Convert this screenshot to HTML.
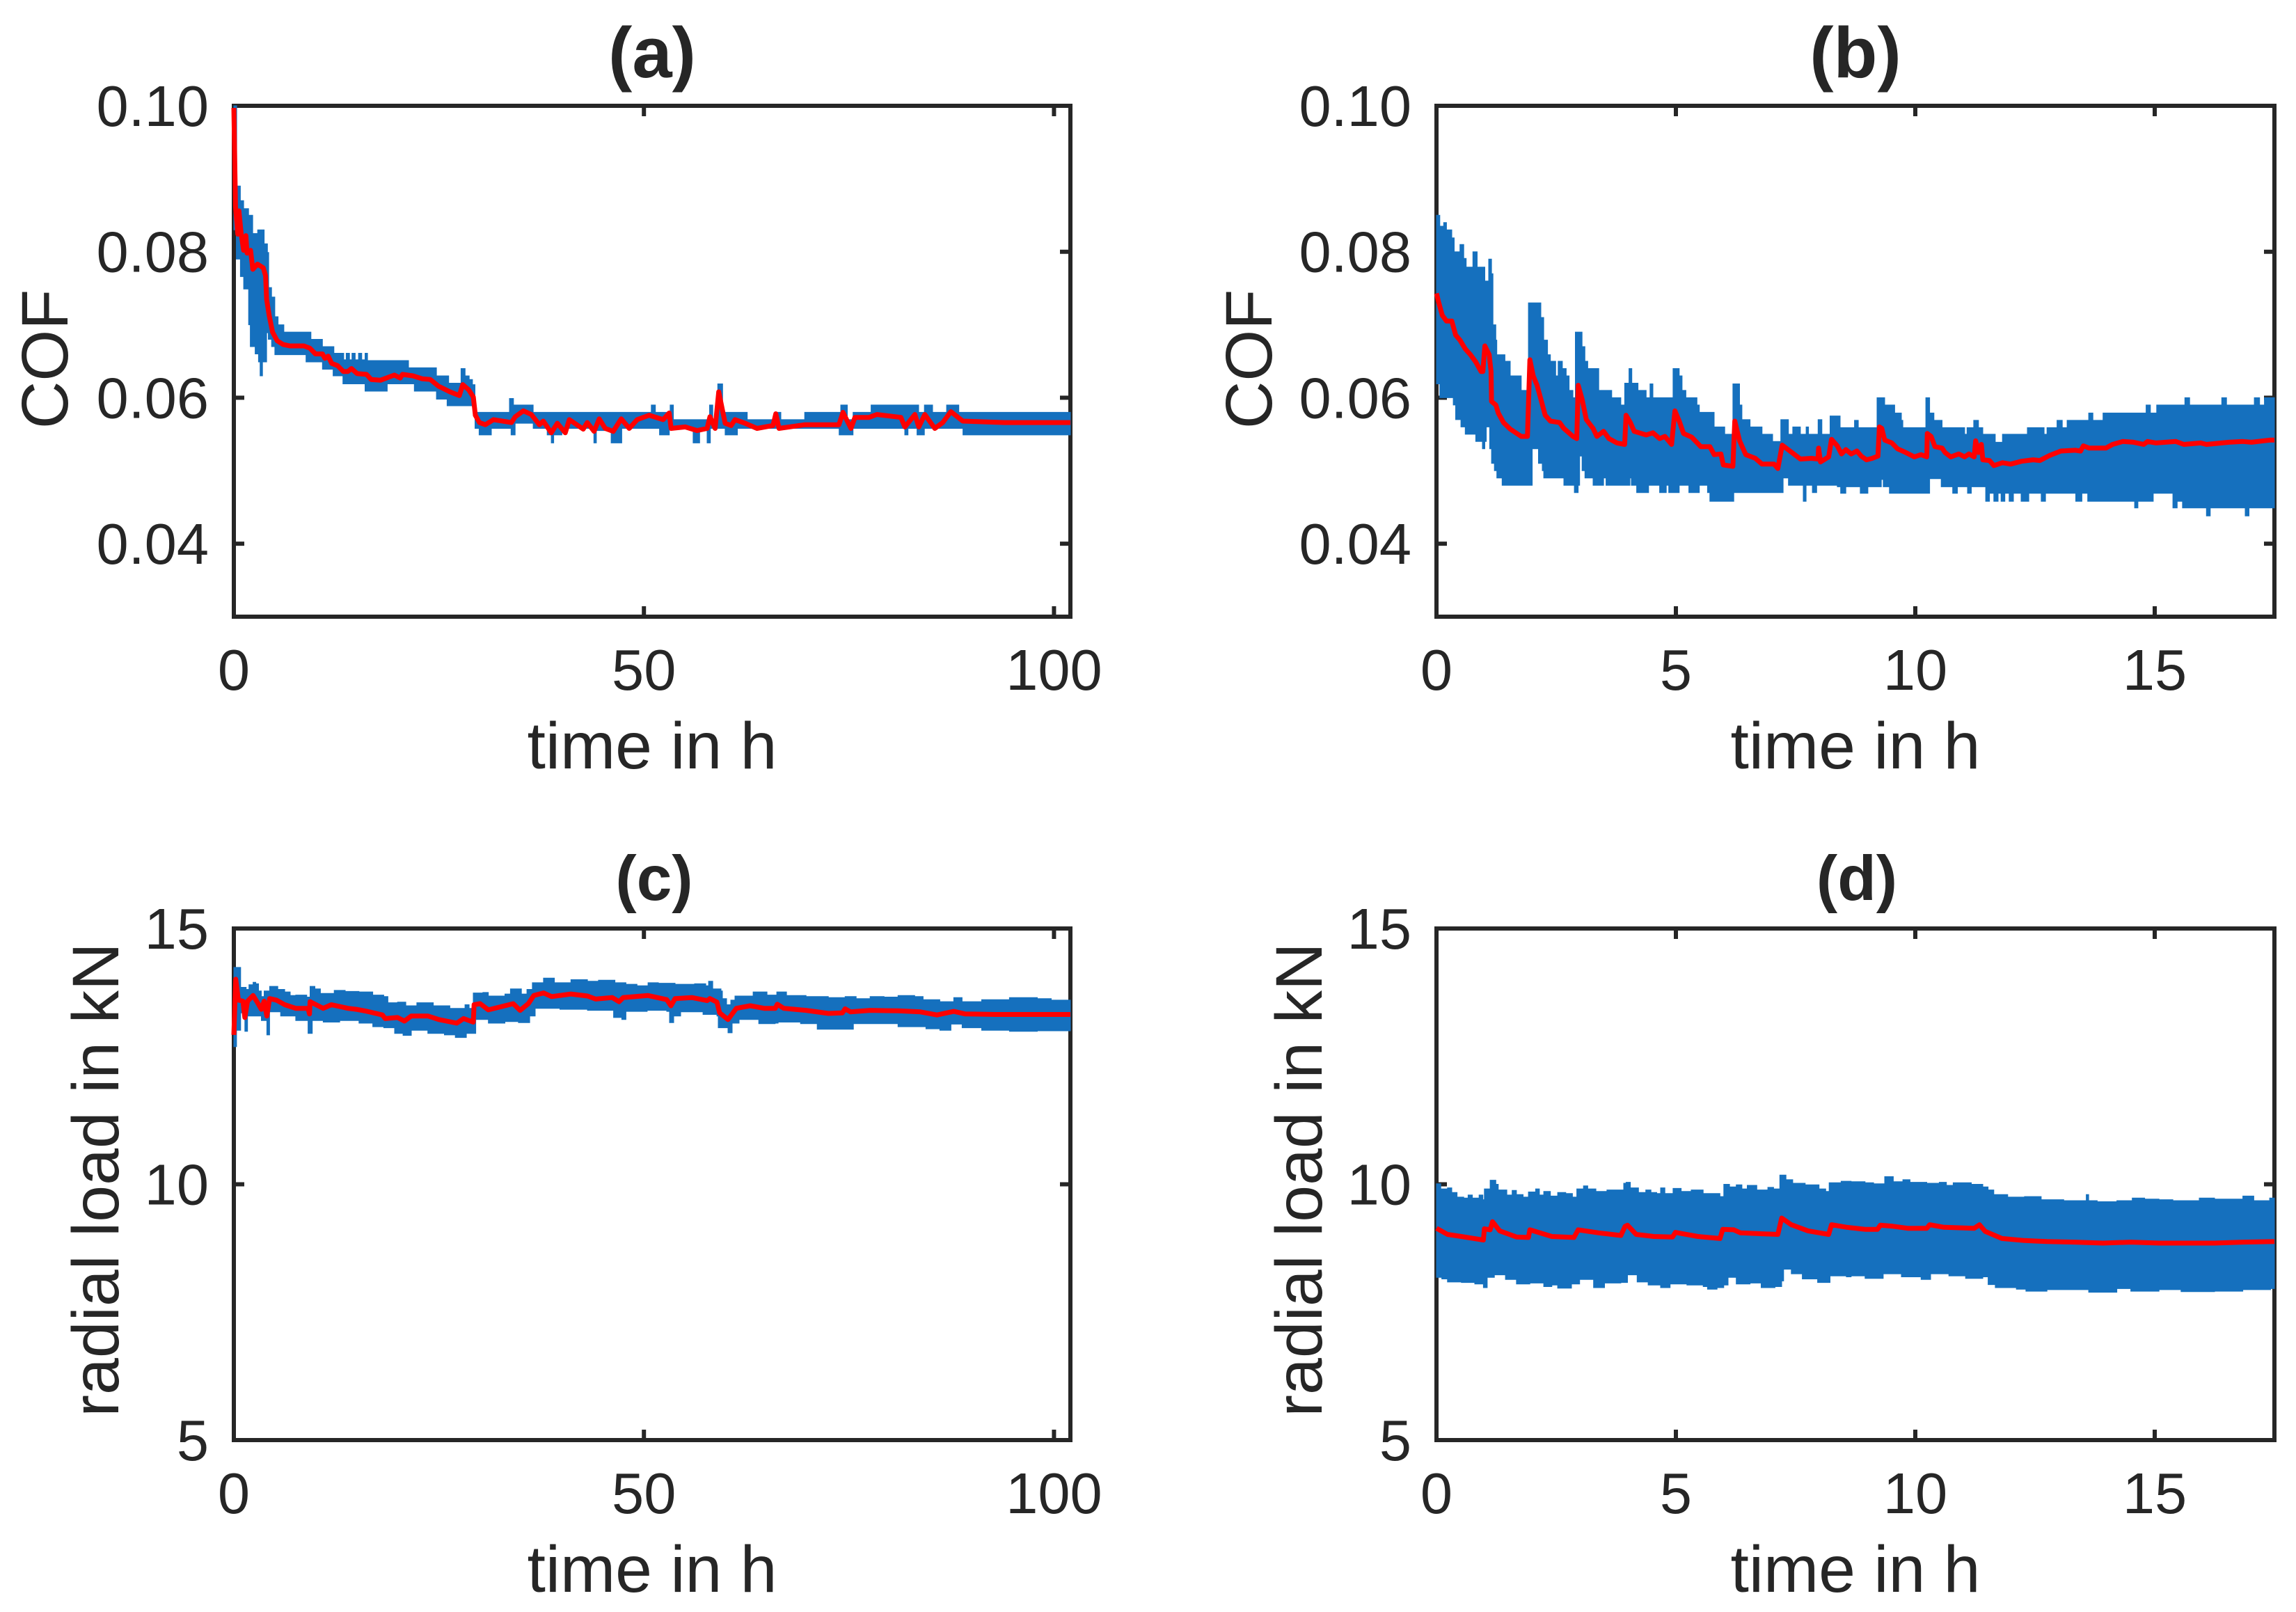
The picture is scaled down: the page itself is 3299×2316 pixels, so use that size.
<!DOCTYPE html>
<html lang="en">
<head>
<meta charset="utf-8">
<title>COF and radial load over time</title>
<style>
html,body{margin:0;padding:0;background:#fff;}
svg{display:block;}
text{font-family:"Liberation Sans",sans-serif;fill:#262626;}
.tick{font-size:83px;}
.lab{font-size:95px;}
.ttl{font-size:103px;font-weight:bold;}
.ttl2{font-size:91px;font-weight:bold;}
</style>
</head>
<body>
<svg xmlns="http://www.w3.org/2000/svg" width="3299" height="2316" viewBox="0 0 3299 2316">
<rect x="0" y="0" width="3299" height="2316" fill="#fff"/>
<g id="panel-a">
<text class="ttl" x="937" y="111" text-anchor="middle">(a)</text>
<text class="lab" x="937" y="1104" text-anchor="middle">time in h</text>
<text class="lab" transform="translate(97,516) rotate(-90)" text-anchor="middle">COF</text>
</g>
<g id="panel-b">
<text class="ttl" x="2666" y="111" text-anchor="middle">(b)</text>
<text class="lab" x="2666" y="1104" text-anchor="middle">time in h</text>
<text class="lab" transform="translate(1827,516) rotate(-90)" text-anchor="middle">COF</text>
</g>
<g id="panel-c">
<text class="ttl2" x="940" y="1293" text-anchor="middle">(c)</text>
<text class="lab" x="937" y="2287" text-anchor="middle">time in h</text>
<text class="lab" transform="translate(170,1695) rotate(-90)" text-anchor="middle">radial load in kN</text>
</g>
<g id="panel-d">
<text class="ttl2" x="2668" y="1293" text-anchor="middle">(d)</text>
<text class="lab" x="2666" y="2287" text-anchor="middle">time in h</text>
<text class="lab" transform="translate(1899,1695) rotate(-90)" text-anchor="middle">radial load in kN</text>
</g>
</svg>
<script>
// ---- Tick values and labels ----
const xTicksLong = [0, 50, 100];
const xTickLabelsLong = ['0', '50', '100'];
const xTicksShort = [0, 5, 10, 15];
const xTickLabelsShort = ['0', '5', '10', '15'];
const yTicksCof = [0.04, 0.06, 0.08, 0.10];
const yTickLabelsCof = ['0.04', '0.06', '0.08', '0.10'];
const yTicksLoad = [5, 10, 15];
const yTickLabelsLoad = ['5', '10', '15'];

// ---- Panel (a): COF, long run ----
const aUpperTime = [0,.35,.8,1.2,1.8,2.3,2.9,3.7,4.1,4.25,4.6,5,5.4,6.1,9.4,10.8,12.2,13.4,13.7,14.1,14.4,14.8,15.2,15.6,16,16.3,21.3,24.7,26.2,27.7,28.2,28.7,29.1,29.4,33.6,34.1,36.5,50.9,51.4,53.2,53.6,58,58.4,59,59.6,62.6,66,66.7,69.6,74,74.8,75.5,77.7,83.5,84.2,85.2,86.9,88.4,102];
const aUpper = [.1,.089,.087,.0859,.085,.0825,.083,.0811,.0799,.0751,.0738,.0711,.07,.069,.068,.067,.0661,.0652,.0661,.0652,.0661,.0652,.0661,.0652,.0661,.0651,.0641,.063,.062,.064,.063,.0625,.0618,.058,.0599,.059,.058,.059,.058,.059,.057,.059,.057,.0619,.058,.057,.058,.057,.058,.059,.057,.058,.059,.058,.059,.058,.059,.058,.058];
const aLowerTime = [0,.3,.8,1.2,1.8,2,2.6,3,3.2,3.5,4,4.2,4.6,5,8.8,10.8,12.1,13.3,16,18.7,22,24.7,26,29.2,29.4,29.9,31.4,33.8,34.3,36.5,38.2,38.7,39,40,43.9,44.2,46,47.3,51.9,53.1,56,56.8,57.7,58.1,59.9,61.4,73.8,75.5,81.8,82.2,83.3,84.2,88.9,102];
const aLower = [.083,.079,.0766,.0749,.07,.067,.066,.0649,.063,.0649,.0689,.068,.067,.0659,.0649,.0639,.063,.0619,.0609,.0619,.0609,.0598,.0589,.0575,.0558,.0549,.0558,.0549,.0565,.0558,.0549,.0538,.0549,.0558,.0538,.0555,.0538,.0558,.0549,.0558,.0538,.0555,.0538,.0558,.0549,.0558,.0549,.0558,.0549,.0558,.0549,.0558,.0549,.0549];
const aMeanTime = [0,.2,.48,.62,.9,1.19,1.47,1.61,2.04,2.32,2.88,3.59,3.87,4,4.3,4.72,5.29,6,6.84,8.54,9.25,9.95,10.8,11.1,11.5,11.93,12.64,13.35,13.91,14.34,15.04,16.17,16.74,17.87,19.57,20.28,20.56,21.83,22.96,23.95,24.94,26.36,27.49,27.91,28.62,29.2,29.45,29.94,30.67,31.65,33.84,34.32,35.3,36.27,37.25,37.73,38.7,39.44,40.41,40.9,42.6,43.09,43.92,44.55,45.28,46.26,47.23,48.21,49.18,50.64,52.35,53.08,53.32,55.03,56.49,57.7,58.05,58.68,59.12,59.9,60.63,61.11,62.33,63.79,65.74,66.08,66.47,69.64,73.78,74.27,75.24,75.73,77.43,78.41,81.33,81.82,83.03,83.52,84.25,85.47,86.44,87.42,88.88,94,102];
const aMean = [.0997,.0862,.0824,.0856,.0824,.0802,.0822,.0798,.0802,.0776,.0783,.0778,.0767,.0735,.0713,.069,.0678,.0673,.0671,.0671,.0668,.066,.066,.0654,.0657,.0647,.0644,.0636,.0636,.064,.0633,.0632,.0625,.0624,.0631,.0627,.0632,.063,.0626,.0625,.0616,.0608,.0603,.0618,.0611,.0601,.0576,.0566,.0563,.057,.0566,.0574,.0582,.0577,.0563,.0568,.0552,.0565,.0552,.057,.0557,.0566,.0554,.0571,.0558,.0554,.0571,.0558,.057,.0576,.057,.0579,.0558,.056,.0555,.0558,.0574,.0558,.0608,.0565,.0562,.057,.0565,.0558,.0562,.0578,.0558,.0563,.0563,.058,.0558,.0573,.0573,.0577,.0573,.056,.0577,.056,.0577,.0558,.0566,.0581,.0568,.0566,.0566];

// ---- Panel (b): COF, short run ----
const bUpperTime = [0,.07,.15,.21,.32,.37,.49,.57,.62,.76,.85,1.01,1.09,1.15,1.18,1.24,1.26,1.43,1.54,1.77,1.92,2.18,2.24,2.32,2.38,2.49,2.54,2.63,2.71,2.77,2.85,2.9,3.04,3.1,3.16,3.39,3.66,3.85,3.93,4.02,4.08,4.21,4.38,4.46,4.52,4.94,5.07,5.13,5.21,5.44,5.49,5.8,6.02,6.19,6.33,6.38,6.55,6.8,7.02,7.19,7.35,7.44,7.6,7.72,7.77,7.97,8.05,8.22,8.43,8.73,8.81,9.2,9.36,9.57,9.71,9.74,10.22,10.3,10.39,10.56,11.03,11.08,11.22,11.32,11.41,11.67,11.82,12.34,12.69,12.75,12.96,13.07,13.17,13.62,13.71,13.92,14.82,14.91,15.04,15.63,15.73,16.4,16.5,17.08,17.19,17.29,17.5];
const bUpper = [.085,.0835,.084,.083,.0819,.08,.081,.0791,.0779,.08,.0779,.076,.079,.077,.07,.0679,.0659,.065,.063,.061,.073,.071,.0679,.0659,.065,.063,.065,.064,.063,.061,.06,.069,.067,.065,.064,.061,.06,.059,.062,.064,.062,.061,.06,.0619,.06,.064,.063,.061,.06,.059,.058,.056,.055,.0619,.059,.057,.056,.055,.054,.057,.055,.056,.055,.056,.055,.057,.055,.0575,.0559,.0569,.0559,.06,.059,.0579,.0569,.0559,.06,.0579,.0569,.0559,.055,.0559,.0569,.0559,.055,.0539,.055,.0559,.055,.0559,.0569,.0559,.0569,.0579,.0569,.0579,.059,.0579,.059,.06,.059,.06,.059,.06,.059,.06,.06];
const bLowerTime = [0,.07,.35,.4,.51,.6,.82,.96,1.01,1.04,1.11,1.15,1.21,1.26,1.37,2,2.13,2.21,2.24,2.66,2.88,2.96,2.99,3.04,3.1,3.27,3.49,3.54,4.04,4.07,4.18,4.43,4.66,4.8,4.85,5.07,5.27,5.49,5.66,5.71,6.21,7.24,7.35,7.66,7.72,7.85,7.94,8.37,8.44,8.55,8.85,9.01,9.29,9.33,9.46,10.3,10.54,10.78,10.88,11.09,11.17,11.47,11.55,11.64,11.73,11.79,11.87,11.96,12.05,12.21,12.37,12.63,12.72,13.35,13.48,13.6,14.58,14.65,14.97,15.38,15.47,15.58,16.08,16.16,16.89,16.97,17.5];
const bLower = [.0619,.06,.059,.057,.056,.055,.054,.053,.054,.056,.053,.051,.05,.049,.048,.053,.051,.05,.049,.048,.047,.048,.052,.05,.049,.048,.049,.048,.049,.048,.047,.048,.047,.048,.047,.048,.047,.048,.047,.0458,.047,.049,.048,.0458,.048,.047,.048,.0478,.0469,.0478,.0469,.0478,.0488,.0478,.0469,.0489,.0478,.0469,.0478,.0469,.0478,.0458,.0469,.0458,.0469,.0458,.0469,.0458,.0469,.0458,.0469,.0458,.0469,.0458,.0469,.0458,.0449,.0458,.0469,.0449,.0458,.0449,.0438,.0449,.0438,.0449,.0458];
const bMeanTime = [0,.04,.12,.21,.32,.4,.49,.6,.71,.82,.93,.97,1.01,1.1,1.14,1.15,1.24,1.29,1.4,1.54,1.77,1.9,1.95,2.02,2.1,2.18,2.27,2.38,2.57,2.66,2.85,2.93,2.96,3.04,3.13,3.27,3.35,3.49,3.6,3.77,3.93,3.96,4.05,4.13,4.38,4.52,4.66,4.77,4.91,4.98,5.07,5.16,5.33,5.52,5.71,5.8,5.94,5.99,6.19,6.23,6.33,6.46,6.66,6.8,7.05,7.13,7.22,7.44,7.6,7.83,7.97,7.98,8.02,8.19,8.25,8.37,8.46,8.55,8.66,8.78,8.87,8.98,9.1,9.22,9.25,9.3,9.36,9.51,9.63,9.8,9.98,10.12,10.24,10.25,10.33,10.41,10.56,10.62,10.74,10.91,11.03,11.12,11.23,11.26,11.32,11.38,11.41,11.55,11.64,11.82,11.99,12.22,12.46,12.6,12.81,13.04,13.34,13.45,13.51,13.63,13.98,14.12,14.33,14.56,14.77,14.85,15.03,15.44,15.61,15.96,16.08,16.55,16.84,17.02,17.42,17.5];
const bMean = [.0743,.0732,.0713,.0705,.0705,.0686,.0679,.0667,.0659,.0649,.0636,.0636,.0671,.0659,.0636,.0595,.059,.0579,.0566,.0557,.0547,.0547,.0652,.063,.0617,.0598,.0576,.0568,.0566,.0558,.0547,.0544,.0617,.0598,.057,.0558,.0547,.0554,.0544,.0538,.0536,.0576,.0566,.0554,.0549,.0552,.0544,.0547,.0536,.0582,.0568,.0551,.0546,.0533,.0533,.0522,.0523,.0508,.0506,.0568,.0541,.0522,.0517,.0509,.0509,.0503,.0535,.0524,.0516,.0517,.0516,.0531,.0512,.0519,.0543,.0534,.0523,.0529,.0523,.0527,.052,.0515,.0517,.052,.056,.0558,.0542,.0538,.053,.0525,.0519,.0522,.0519,.0551,.0547,.0533,.0531,.0525,.0519,.0523,.0519,.0523,.0519,.0541,.0525,.0536,.0515,.0514,.0507,.0511,.0509,.0513,.0515,.0514,.0521,.0527,.0528,.0527,.0534,.0531,.0531,.0536,.054,.0539,.0536,.054,.0538,.054,.0536,.0538,.0536,.0539,.054,.0539,.0542,.0542];

// ---- Panel (c): radial load, long run ----
const cUpperTime = [0,.67,.83,1.5,1.84,2.34,2.68,3.01,3.35,3.69,4.36,5.36,6.2,6.87,7.54,8.89,9.29,9.89,10.56,12.24,13.58,15.26,16.94,18.28,18.79,19.96,20.97,22.31,24.32,26.34,27.34,28.18,28.69,29.19,30.36,31.03,33.05,33.72,35.06,35.73,36.4,37.75,39.09,41.1,43.12,44.46,46.47,47.81,49.16,50.5,51.76,53.8,56.18,57.54,57.88,58.39,59.4,59.57,60.08,60.59,61.1,63.31,65.01,66.2,67.39,69.77,72.49,74.53,75.88,77.58,79.28,80.98,83.02,84.04,86.08,87.78,88.8,91.18,94.57,97.97,99.67,102];
const cUpper = [14.24,14.24,13.85,13.81,13.9,13.95,13.92,13.78,13.67,13.78,13.87,13.81,13.76,13.69,13.7,13.66,13.87,13.82,13.73,13.79,13.77,13.76,13.7,13.67,13.55,13.56,13.49,13.55,13.49,13.44,13.44,13.51,13.44,13.74,13.75,13.68,13.72,13.82,13.72,13.81,13.94,14.03,13.94,14,13.97,13.99,13.94,13.91,13.88,13.94,13.93,13.91,13.92,13.88,13.97,13.82,13.78,13.63,13.51,13.6,13.68,13.76,13.7,13.76,13.69,13.67,13.65,13.67,13.63,13.67,13.66,13.69,13.67,13.61,13.57,13.65,13.57,13.61,13.65,13.63,13.6,13.6];
const cLowerTime = [0,.33,.83,1.34,1.67,2.85,3.35,4.02,4.36,5.36,5.7,7.54,8.89,9.05,9.39,9.56,10.9,12.91,15.26,16.94,18.28,19.6,20.63,21.64,23.65,25.67,27,28.35,29.36,29.5,31.03,33.05,34.7,36.07,36.74,39.76,43.12,46.3,47.3,47.81,50.4,52.78,53.12,53.46,53.63,54.48,57.2,58.9,59.06,60.25,60.59,60.76,61.61,64,66,66.37,69.09,71.13,74.19,75.54,77.58,80.98,84.38,86.08,87.44,88.8,91.18,94.57,97.97,102];
const cLower = [12.69,13.01,13.35,12.99,13.29,13.29,13.2,12.92,13.37,13.37,13.29,13.2,13.2,12.95,12.95,13.2,13.17,13.2,13.15,13.08,13.06,12.95,12.91,13.01,12.95,12.92,12.87,12.95,12.95,13.22,13.15,13.18,13.16,13.29,13.44,13.42,13.4,13.26,13.22,13.38,13.4,13.38,13.16,13.16,13.29,13.37,13.32,13.29,13.06,12.96,12.96,13.15,13.22,13.14,13.15,13.17,13.14,13.03,13.03,13.14,13.14,13.08,13.04,13.01,13.13,13.06,13.01,12.99,13,13];
const cMeanTime = [0,.23,.56,1.1,1.34,1.67,2.34,2.85,3.35,3.69,4.02,4.36,5.2,6.2,7.54,9.05,9.22,9.29,10.9,11.9,13.92,14.93,16.27,18.12,18.45,19.96,20.8,21.64,23.65,25,27.18,28.01,29.19,29.29,30.03,31.03,33.05,34.06,34.9,35.9,36.57,37.75,38.75,41.1,43.12,44.12,46.14,46.97,47.48,50.5,52.78,53.29,53.8,55.84,57.71,58.05,58.9,59.23,60.25,61.27,62.97,64.67,66,66.27,67.05,69.77,72.49,74.19,74.53,75.2,77.58,80.98,83.7,85.74,87.78,89.14,92.87,102];
const cMean = [12.92,14.01,13.6,13.58,13.26,13.58,13.69,13.56,13.42,13.58,13.29,13.63,13.6,13.51,13.44,13.44,13.33,13.57,13.44,13.51,13.44,13.42,13.38,13.31,13.24,13.26,13.19,13.29,13.29,13.22,13.15,13.24,13.17,13.51,13.53,13.41,13.49,13.53,13.4,13.53,13.69,13.74,13.67,13.72,13.68,13.62,13.65,13.57,13.65,13.69,13.61,13.49,13.63,13.65,13.59,13.63,13.56,13.35,13.22,13.44,13.49,13.44,13.44,13.52,13.44,13.4,13.34,13.35,13.43,13.37,13.4,13.39,13.37,13.31,13.38,13.33,13.32,13.32];

// ---- Panel (d): radial load, short run ----
const dUpperTime = [0,.09,.23,.32,.43,.57,.66,.75,.89,.97,1,1.12,1.24,1.29,1.47,1.58,1.67,1.81,1.92,2.07,2.15,2.24,2.38,2.53,2.7,2.84,2.93,3.07,3.16,3.33,3.56,3.79,3.91,3.96,4.05,4.22,4.37,4.48,4.6,4.68,4.77,4.94,5.11,5.32,5.57,5.75,5.92,6,6.12,6.26,6.38,6.49,6.69,6.92,7.04,7.17,7.3,7.44,7.7,7.99,8.13,8.2,8.45,8.66,8.95,9.13,9.36,9.54,9.74,9.89,10.24,10.5,10.65,10.79,11.17,11.41,11.52,11.64,11.93,12.28,12.63,13.1,13.57,13.62,13.8,14.21,14.53,14.79,15.09,15.38,15.93,16.25,16.84,17.07,17.4,17.5];
const dUpper = [10.01,9.91,9.93,9.84,9.75,9.73,9.79,9.73,9.79,9.7,9.91,10.08,10,9.89,9.79,9.88,9.8,9.75,9.85,9.91,9.79,9.86,9.77,9.84,9.82,9.75,9.91,9.97,9.91,9.86,9.89,9.89,10.02,10.04,9.93,9.84,9.89,9.84,9.82,9.93,9.82,9.92,9.86,9.89,9.82,9.82,9.76,10,9.95,9.99,9.91,9.98,9.89,9.94,9.91,10.18,10.09,10.02,9.99,9.91,9.86,10.03,10.06,10.05,10.03,10.01,10.15,10.05,10.09,10.04,10.02,10.04,9.98,10.03,10,9.95,9.89,9.8,9.75,9.76,9.7,9.68,9.8,9.68,9.66,9.68,9.73,9.71,9.7,9.68,9.73,9.71,9.77,9.68,9.73,9.61];
const dLowerTime = [0,.11,.23,.52,.8,.98,1.06,1.21,1.44,1.67,1.95,2.24,2.41,2.53,2.82,2.99,3.28,3.51,3.85,3.99,4.19,4.42,4.68,4.88,5.23,5.57,5.66,5.86,6,6.09,6.26,6.55,6.78,7.07,7.21,7.25,7.41,7.64,7.96,8.22,8.56,8.66,8.95,9.27,9.33,9.71,10.12,10.32,10.7,11.05,11.41,11.52,11.67,12.11,12.31,12.75,13.33,13.62,14.21,14.5,15.09,15.55,16.25,16.84,17.42,17.5];
const dLower = [8.18,8.15,8.09,8.08,8.05,7.98,8.18,8.23,8.14,8.05,8.07,8,8.03,7.97,8.05,8.14,7.98,8.07,8.08,8.23,8.09,8.03,7.98,8.05,8.03,8,7.95,7.98,8.03,8.18,8.05,8.07,7.98,8,8.11,8.34,8.25,8.15,8.08,8.21,8.19,8.21,8.16,8.16,8.25,8.19,8.14,8.25,8.21,8.16,8.19,8.04,7.98,7.95,7.91,7.94,7.94,7.89,7.96,7.91,7.94,7.9,7.91,7.94,7.96,8];
const dMeanTime = [0,.23,.52,.98,1,1.12,1.17,1.32,1.67,1.92,1.95,2.41,2.87,2.96,3.39,3.85,3.94,3.99,4.17,4.54,4.93,4.99,5.46,5.92,5.98,6.21,6.35,7.13,7.21,7.41,7.76,8.19,8.25,8.56,8.66,8.95,9.21,9.27,9.53,9.84,10.24,10.3,10.59,11.23,11.34,11.46,11.81,12.28,12.75,13.33,13.92,14.5,15.09,16.25,16.84,17.5];
const dMean = [9.14,9.02,8.98,8.91,9.13,9.11,9.27,9.09,8.97,8.96,9.11,8.98,8.96,9.11,9.05,9,9.18,9.2,9.02,8.98,8.97,9.06,8.98,8.94,9.12,9.11,9.05,9.02,9.34,9.21,9.09,9.02,9.21,9.16,9.15,9.12,9.12,9.2,9.18,9.14,9.14,9.21,9.16,9.14,9.21,9.08,8.94,8.9,8.88,8.87,8.85,8.87,8.85,8.85,8.87,8.88];

const SVG_NS = 'http://www.w3.org/2000/svg';

function makeAxis(domainMin, domainMax, rangeMin, rangeMax) {
  return function (value) {
    return rangeMin + (value - domainMin) / (domainMax - domainMin) * (rangeMax - rangeMin);
  };
}

function stepPoints(times, values, xAxis, yAxis) {
  const points = [];
  for (let i = 0; i < times.length; i++) {
    points.push(xAxis(times[i]).toFixed(1) + ',' + yAxis(values[i]).toFixed(1));
    if (i + 1 < times.length) {
      points.push(xAxis(times[i + 1]).toFixed(1) + ',' + yAxis(values[i]).toFixed(1));
    }
  }
  return points;
}

function linePoints(times, values, xAxis, yAxis) {
  return times.map(function (t, i) {
    return xAxis(t).toFixed(1) + ',' + yAxis(values[i]).toFixed(1);
  });
}

function addFrame(group, box) {
  const frame = document.createElementNS(SVG_NS, 'rect');
  
  
  frame.setAttribute('x', box.left);
  frame.setAttribute('y', box.top);
  frame.setAttribute('width', box.right - box.left);
  frame.setAttribute('height', box.bottom - box.top);
  frame.setAttribute('fill', 'none');
  frame.setAttribute('stroke', '#262626');
  frame.setAttribute('stroke-width', '6');
  group.appendChild(frame);
}

function addTickLine(group, x1, y1, x2, y2) {
  const tick = document.createElementNS(SVG_NS, 'line');
  
  
  tick.setAttribute('x1', x1);
  tick.setAttribute('y1', y1);
  tick.setAttribute('x2', x2);
  tick.setAttribute('y2', y2);
  tick.setAttribute('stroke', '#262626');
  tick.setAttribute('stroke-width', '6');
  group.appendChild(tick);
}

function addTickLabel(group, x, y, anchor, label) {
  const text = document.createElementNS(SVG_NS, 'text');
  
  
  text.setAttribute('class', 'tick');
  text.setAttribute('x', x);
  text.setAttribute('y', y);
  text.setAttribute('text-anchor', anchor);
  text.textContent = label;
  group.appendChild(text);
}

function drawPanel(id, box, xMax, yMin, yMax, xTicks, xLabels, yTicks, yLabels, series) {
  const group = document.getElementById(id);
  const xAxis = makeAxis(0, xMax, box.left, box.right);
  const yAxis = makeAxis(yMin, yMax, box.bottom, box.top);

  addFrame(group, box);
  xTicks.forEach(function (value, i) {
    const x = xAxis(value);
    addTickLine(group, x, box.bottom, x, box.bottom - 15);
    addTickLine(group, x, box.top, x, box.top + 15);
    addTickLabel(group, x, box.bottom + 105, 'middle', xLabels[i]);
  });
  yTicks.forEach(function (value, i) {
    const y = yAxis(value);
    addTickLine(group, box.left, y, box.left + 15, y);
    addTickLine(group, box.right, y, box.right - 15, y);
    addTickLabel(group, box.left - 36, y + 29, 'end', yLabels[i]);
  });

  const top = stepPoints(series.upperTime, series.upper, xAxis, yAxis);
  const bottom = stepPoints(series.lowerTime, series.lower, xAxis, yAxis).reverse();
  const band = document.createElementNS(SVG_NS, 'polygon');
  
  
  band.setAttribute('points', top.concat(bottom).join(' '));
  band.setAttribute('fill', '#1570BE');
  band.setAttribute('stroke', '#1570BE');
  band.setAttribute('stroke-width', '1');
  group.appendChild(band);

  const mean = document.createElementNS(SVG_NS, 'polyline');
  
  
  mean.setAttribute('points', linePoints(series.meanTime, series.mean, xAxis, yAxis).join(' '));
  mean.setAttribute('fill', 'none');
  mean.setAttribute('stroke', '#FF0000');
  mean.setAttribute('stroke-width', '7');
  mean.setAttribute('stroke-linejoin', 'round');
  group.appendChild(mean);
}

drawPanel('panel-a', {left: 336, right: 1538, top: 152, bottom: 886}, 102, 0.03, 0.10,
  xTicksLong, xTickLabelsLong, yTicksCof, yTickLabelsCof,
  {upperTime: aUpperTime, upper: aUpper, lowerTime: aLowerTime, lower: aLower, meanTime: aMeanTime, mean: aMean});
drawPanel('panel-b', {left: 2064, right: 3268, top: 152, bottom: 886}, 17.5, 0.03, 0.10,
  xTicksShort, xTickLabelsShort, yTicksCof, yTickLabelsCof,
  {upperTime: bUpperTime, upper: bUpper, lowerTime: bLowerTime, lower: bLower, meanTime: bMeanTime, mean: bMean});
drawPanel('panel-c', {left: 336, right: 1538, top: 1334, bottom: 2069}, 102, 5, 15,
  xTicksLong, xTickLabelsLong, yTicksLoad, yTickLabelsLoad,
  {upperTime: cUpperTime, upper: cUpper, lowerTime: cLowerTime, lower: cLower, meanTime: cMeanTime, mean: cMean});
drawPanel('panel-d', {left: 2064, right: 3268, top: 1334, bottom: 2069}, 17.5, 5, 15,
  xTicksShort, xTickLabelsShort, yTicksLoad, yTickLabelsLoad,
  {upperTime: dUpperTime, upper: dUpper, lowerTime: dLowerTime, lower: dLower, meanTime: dMeanTime, mean: dMean});
</script>
</body>
</html>
